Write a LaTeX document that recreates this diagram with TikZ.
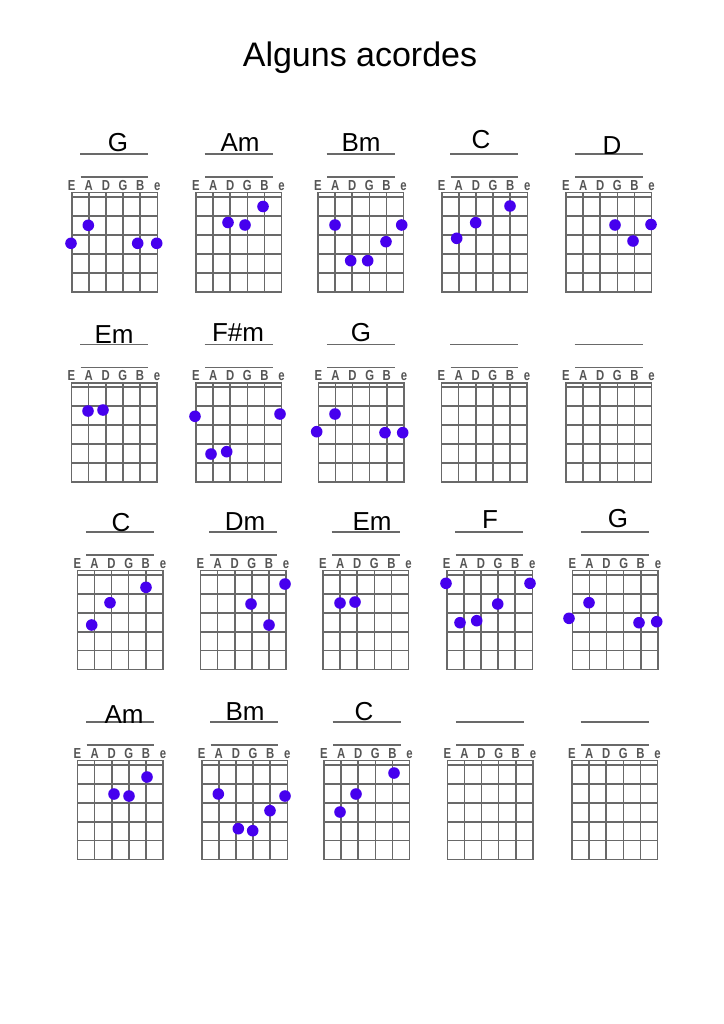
\documentclass[tikz,border=0pt]{standalone}
\usepackage{fontspec}
\setmainfont{Liberation Sans}
\newfontfamily\strfont{Liberation Sans}
\definecolor{gridc}{RGB}{105,105,105}
\definecolor{strc}{RGB}{85,85,85}
\definecolor{dotc}{RGB}{70,0,238}
\newcommand{\gridat}[3]{%
  \begin{scope}[shift={(#1,#2)}]
    \draw[gridline] (0,0) rectangle (85.6,99);
    \draw[gridline] (0,4.5) -- (85.6,4.5);
    \foreach \k in {1,...,4} \draw[gridline] (0,4.5+\k*18.9) -- (85.6,4.5+\k*18.9);
    \foreach \s in {1,...,4} \draw[gridline] (\s*17.12,0) -- (\s*17.12,99);
    \draw[labline] (8.5,-38.4) -- (76.6,-38.4);
    \draw[labline] (9,-15.4) -- (76.6,-15.4);
    \foreach \l [count=\i from 0] in {E,A,D,G,B,e}
      \node[strlab] (#3-\l) at (\i*17.12,-2.4) {\scalebox{0.78}[1]{\l}};
  \end{scope}}
\newcommand{\dotat}[2]{\fill[dotc] (#1,#2) circle[radius=5.8];}
\begin{document}
\begin{tikzpicture}[x=1pt,y=-1pt,
  gridline/.style={draw=gridc,line width=1.6pt},
  labline/.style={draw=gridc,line width=1.6pt},
  strlab/.style={anchor=base,inner sep=0pt,text=strc,font=\strfont\bfseries\fontsize{14.5}{16}\selectfont},
  chordname/.style={anchor=base,inner sep=0pt,font=\fontsize{26}{30}\selectfont},
  titlestyle/.style={anchor=base,inner sep=0pt,font=\fontsize{34}{40}\selectfont}]
\useasboundingbox[fill=white] (0,0) rectangle (723,1024);
\node[titlestyle] (title) at (360,67) {Alguns acordes};

% Row 1
\gridat{71.7}{192.7}{g1}
\gridat{196}{192.7}{g2}
\gridat{318}{192.7}{g3}
\gridat{441.7}{192.7}{g4}
\gridat{566}{192.7}{g5}
\node[chordname] (n1) at (118,151.5) {G};
\node[chordname] (n2) at (240,151.5) {Am};
\node[chordname] (n3) at (361,151.5) {Bm};
\node[chordname] (n4) at (481,148.8) {C};
\node[chordname] (n5) at (612,154.5) {D};
\dotat{88.3}{225.3}\dotat{71}{243.3}\dotat{137.7}{243.3}\dotat{156.7}{243.3}
\dotat{228}{222.5}\dotat{245}{225}\dotat{263}{206.5}
\dotat{335}{225}\dotat{350.7}{260.7}\dotat{367.7}{260.7}\dotat{386}{241.7}\dotat{401.7}{225}
\dotat{456.7}{238.3}\dotat{475.7}{222.7}\dotat{510}{206}
\dotat{615}{225}\dotat{633}{241}\dotat{651}{224.5}

% Row 2
\gridat{71.5}{382.7}{g6}
\gridat{196}{382.7}{g7}
\gridat{318.3}{382.7}{g8}
\gridat{441.5}{382.7}{g9}
\gridat{566}{382.7}{g10}
\node[chordname] (n6) at (114,343.5) {Em};
\node[chordname] (n7) at (238,341) {F\#m};
\node[chordname] (n8) at (361,341.3) {G};
\dotat{88}{411}\dotat{103}{410}
\dotat{195}{416.3}\dotat{211}{454}\dotat{226.7}{451.7}\dotat{280}{414}
\dotat{316.7}{431.7}\dotat{335}{414}\dotat{385}{432.7}\dotat{402.7}{432.7}

% Row 3
\gridat{77.3}{570.5}{g11}
\gridat{200.5}{570.5}{g12}
\gridat{323}{570.5}{g13}
\gridat{446.7}{570.5}{g14}
\gridat{572.3}{570.5}{g15}
\node[chordname] (n11) at (121,531.5) {C};
\node[chordname] (n12) at (245,530.5) {Dm};
\node[chordname] (n13) at (372,530.5) {Em};
\node[chordname] (n14) at (490,528.3) {F};
\node[chordname] (n15) at (618,527.3) {G};
\dotat{91.7}{625}\dotat{110}{602.7}\dotat{146}{587.3}
\dotat{251}{604}\dotat{269}{625}\dotat{285}{584}
\dotat{340}{603}\dotat{355}{602}
\dotat{446}{583.3}\dotat{460}{622.7}\dotat{476.7}{620.7}\dotat{497.7}{604}\dotat{530}{583.3}
\dotat{569}{618.3}\dotat{589}{602.7}\dotat{639}{622.7}\dotat{656.7}{621.7}

% Row 4
\gridat{77.5}{760.5}{g16}
\gridat{201.7}{760.5}{g17}
\gridat{324}{760.5}{g18}
\gridat{447.3}{760.5}{g19}
\gridat{572}{760.5}{g20}
\node[chordname] (n16) at (124,723.5) {Am};
\node[chordname] (n17) at (245,720.7) {Bm};
\node[chordname] (n18) at (364,720.3) {C};
\dotat{114}{794}\dotat{129}{796}\dotat{147}{777}
\dotat{218.3}{794}\dotat{238.3}{828.7}\dotat{252.7}{830.7}\dotat{270}{810.7}\dotat{285}{796}
\dotat{340}{812}\dotat{356}{794}\dotat{394}{773}
\end{tikzpicture}
\end{document}
